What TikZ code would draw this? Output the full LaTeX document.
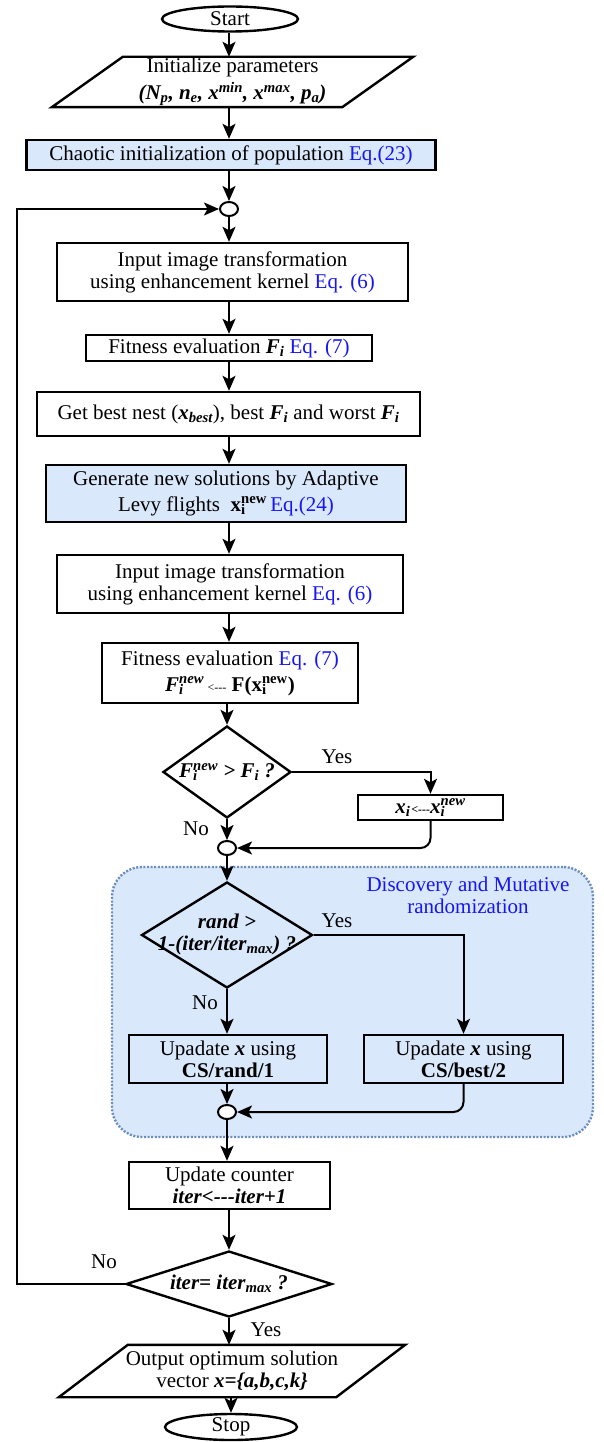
\documentclass[tikz,border=0pt]{standalone}
\usepackage{fontspec}
\setmainfont{Liberation Serif}
\usetikzlibrary{shapes.geometric,arrows.meta}
\definecolor{boxblue}{HTML}{DAE8FC}
\definecolor{zoneedge}{HTML}{6C8EBF}
\definecolor{eqblue}{HTML}{1515F5}
\newcommand{\bivar}[1]{\textbf{\textit{#1}}}
\newcommand{\eqtag}[1]{\textcolor{eqblue}{#1}}
\newcommand{\subsup}[3]{#1\rlap{\textsubscript{#2}}\textsuperscript{#3}}
\newcommand{\assignarrow}{{\fontsize{12}{14}\selectfont<-{}-{}-}}

\begin{document}
\begin{tikzpicture}[x=1pt, y=-1pt, font=\fontsize{21}{22}\selectfont,
    block/.style={draw, line width=2.4pt, align=center, inner sep=0pt},
    iobox/.style={align=center, inner sep=0pt},
    term/.style={ellipse, draw, line width=2.4pt, inner sep=0pt},
    junc/.style={ellipse, draw, fill=white, line width=2pt, inner sep=0pt,
      minimum width=18, minimum height=14},
    decide/.style={diamond, draw, line width=2.4pt, inner sep=0pt},
    line/.style={line width=2pt, -{Stealth[length=15pt,width=13pt,inset=3.5pt]}},
    tag/.style={inner sep=0pt}]
    \useasboundingbox (0,0) rectangle (603,1442);
    % Mutation zone in the background
    \node[draw=zoneedge, fill=boxblue, line width=2.4pt, dash pattern=on 2pt off 1.6pt,
      rounded corners=30, minimum width=481, minimum height=270] (zone) at (352.5,1002) {};
    \node[align=center, text=eqblue] (zonetitle) at (468,895) {Discovery and Mutative\\randomization};
    % Main column
    \node[term, minimum width=136, minimum height=25] (start) at (230,19) {Start};
    \node[iobox, minimum width=290, minimum height=50] (init) at (232.5,82)
      {Initialize parameters\\[4pt]
       \bivar{(N\textsubscript{p}, n\textsubscript{e}, x\textsuperscript{min}, x\textsuperscript{max}, p\textsubscript{a})}};
    \draw[line width=2.4pt] ([xshift=-35.5pt]init.south west) -- ([xshift=-35.5pt]init.south east)
      -- ([xshift=35.5pt]init.north east) -- ([xshift=35.5pt]init.north west) -- cycle;
    \node[block, fill=boxblue, minimum width=409, minimum height=30] (chaos) at (231,155)
      {Chaotic initialization of population \eqtag{Eq.(23)}};
    \node[junc] (j1) at (229,209) {};
    \node[block, minimum width=351, minimum height=58] (trans1) at (232.5,272)
      {Input image transformation\\ using enhancement kernel \eqtag{Eq. (6)}};
    \node[block, minimum width=286, minimum height=26] (fit1) at (229,348)
      {Fitness evaluation \bivar{F\textsubscript{i}} \eqtag{Eq. (7)}};
    \node[block, minimum width=383, minimum height=44] (best) at (228.5,414)
      {Get best nest (\bivar{x\textsubscript{best}}), best \bivar{F\textsubscript{i}} and worst \bivar{F\textsubscript{i}}};
    \node[block, fill=boxblue, minimum width=360, minimum height=57] (levy) at (226,493.5)
      {Generate new solutions by Adaptive\\[4pt] Levy flights\ \ \textbf{\subsup{x}{i}{new}}\,\eqtag{Eq.(24)}};
    \node[block, minimum width=346, minimum height=58] (trans2) at (230,584)
      {Input image transformation\\ using enhancement kernel \eqtag{Eq. (6)}};
    \node[block, minimum width=256, minimum height=60] (fit2) at (230,673)
      {Fitness evaluation \eqtag{Eq. (7)}\\[4pt]
       \bivar{\subsup{F}{i}{new}}\,\assignarrow\ \textbf{F(\subsup{x}{i}{new})}};
    \node[decide, minimum width=128, minimum height=92] (cmp) at (227,772)
      {\makebox[0pt]{\bivar{\subsup{F}{i}{new} > F\textsubscript{i} ?}}};
    \node[block, minimum width=145, minimum height=25] (swap) at (430.5,807.5)
      {\bivar{x\textsubscript{i}\kern1pt\assignarrow\subsup{x}{i}{new}}};
    \node[junc] (j2) at (227,848) {};
    \node[decide, minimum width=171, minimum height=106] (mut) at (227,935)
      {\makebox[0pt]{\bivar{\begin{tabular}{@{}c@{}}rand >\\ 1-(iter/iter\textsubscript{max}) ?\end{tabular}}}};
    \node[block, minimum width=198, minimum height=48] (rand1) at (228,1059)
      {Upadate \bivar{x} using\\ \textbf{CS/rand/1}};
    \node[block, minimum width=199, minimum height=48] (best2) at (463.5,1059)
      {Upadate \bivar{x} using\\ \textbf{CS/best/2}};
    \node[junc] (j3) at (227,1112) {};
    \node[block, minimum width=201, minimum height=47] (count) at (229.5,1185.5)
      {Update counter\\ \bivar{iter<-{}-{}-iter+1}};
    \node[decide, minimum width=206, minimum height=66] (stopq) at (229,1284)
      {\makebox[0pt]{\bivar{iter= iter\textsubscript{max} ?}}};
    \node[iobox, minimum width=277, minimum height=52] (result) at (232,1371)
      {Output optimum solution\\ vector \bivar{x=\{a,b,c,k\}}};
    \draw[line width=2.4pt] ([xshift=-34.5pt]result.south west) -- ([xshift=-34.5pt]result.south east)
      -- ([xshift=34.5pt]result.north east) -- ([xshift=34.5pt]result.north west) -- cycle;
    \node[term, minimum width=132, minimum height=26] (stop) at (231,1427) {Stop};
    \coordinate (loopx) at (17,0);
    % Branch labels
    \node[tag] (yes1) at (337,757) {Yes};
    \node[tag] (no1) at (196,829) {No};
    \node[tag] (yes2) at (337,921) {Yes};
    \node[tag] (no2) at (205,1003) {No};
    \node[tag] (no3) at (104,1262) {No};
    \node[tag] (yes3) at (266,1330) {Yes};
    % Connectors
    \draw[line] (start.south -| j1) -- (init.north -| j1);
    \draw[line] (init.south -| j1) -- (chaos.north -| j1);
    \draw[line] (chaos.south -| j1) -- (j1);
    \draw[line] (j1) -- (trans1.north -| j1);
    \draw[line] (trans1.south -| j1) -- (fit1.north -| j1);
    \draw[line] (fit1.south -| j1) -- (best.north -| j1);
    \draw[line] (best.south -| j1) -- (levy.north -| j1);
    \draw[line] (levy.south -| j1) -- (trans2.north -| j1);
    \draw[line] (trans2.south -| j1) -- (fit2.north -| j1);
    \draw[line] (fit2.south -| cmp) -- (cmp.north);
    \draw[line] (cmp.east) -| (swap.north);
    \draw[line] (cmp.south) -- (j2);
    \draw[line, rounded corners=10] (swap.south) |- (j2.east);
    \draw[line] (j2) -- (mut.north);
    \draw[line] (mut.east) -| (best2.north);
    \draw[line] (mut.south) -- (mut.south |- rand1.north);
    \draw[line] (rand1.south -| j3) -- (j3);
    \draw[line, rounded corners=10] (best2.south) |- (j3.east);
    \draw[line] (j3) -- (count.north -| j3);
    \draw[line] (count.south -| stopq) -- (stopq.north);
    \draw[line] (stopq.west) -| (loopx |- j1) -- (j1.west);
    \draw[line] (stopq.south) -- (stopq.south |- result.north);
    \draw[line] (result.south -| stop) -- (stop);
\end{tikzpicture}
\end{document}
